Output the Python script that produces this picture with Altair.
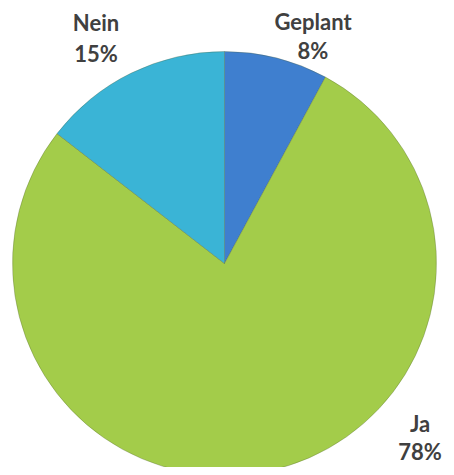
import altair as alt
import pandas as pd

# Data
categories = ["Geplant", "Ja", "Nein"]
values = [7.9, 77.6, 14.5]
pct_labels = ["8%", "78%", "15%"]
colors = ["#3F7FCF", "#A3CC4A", "#3AB4D6"]

# Label layout (pixel positions inside the chart, alphabetic baselines)
label_x = [305, 412, 88]
label_y_name = [22, 424, 23]
label_y_pct = [51, 452, 54]

df = pd.DataFrame({
    "cat": categories,
    "val": values,
    "order": list(range(len(categories))),
})
lab = pd.DataFrame({
    "cat": categories,
    "pct": pct_labels,
    "lx": label_x,
    "ly1": label_y_name,
    "ly2": label_y_pct,
})

cx, cy, r = 216.5, 255.5, 212

pie = alt.Chart(df).mark_arc(radius=r, stroke="#4a5a30", strokeWidth=0.6, strokeOpacity=0.5).encode(
    theta=alt.Theta("val:Q", stack=True),
    order=alt.Order("order:Q"),
    color=alt.Color("cat:N", scale=alt.Scale(domain=categories, range=colors), legend=None),
    x=alt.value(cx),
    y=alt.value(cy),
)

font = "Lato"
fs = 22
name_text = alt.Chart(lab).mark_text(
    font=font, fontWeight="bold", fontSize=fs, color="#404040", align="center", baseline="alphabetic"
).encode(
    x=alt.X("lx:Q", scale=None),
    y=alt.Y("ly1:Q", scale=None),
    text="cat:N",
)
pct_text = alt.Chart(lab).mark_text(
    font=font, fontWeight="bold", fontSize=fs, color="#404040", align="center", baseline="alphabetic"
).encode(
    x=alt.X("lx:Q", scale=None),
    y=alt.Y("ly2:Q", scale=None),
    text="pct:N",
)

chart = alt.layer(pie, name_text, pct_text).properties(
    width=438, height=459, padding=0, autosize=alt.AutoSizeParams(type="none")
).configure_view(stroke=None)

chart.save("out.html", embed_options={"renderer": "svg", "actions": False})
